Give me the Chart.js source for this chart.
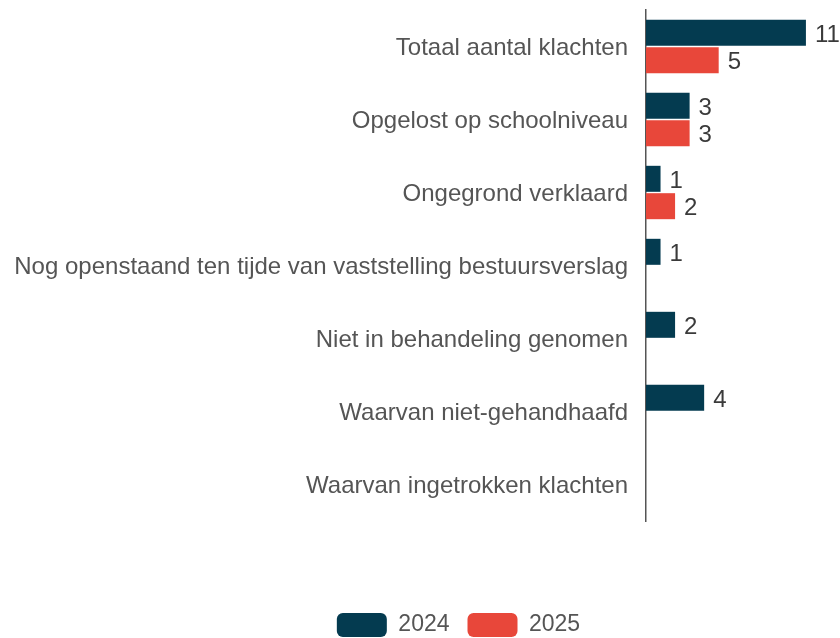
<!DOCTYPE html>
<html>
<head>
<meta charset="utf-8">
<script src="https://cdn.jsdelivr.net/npm/chart.js@4.4.1/dist/chart.umd.min.js"></script>
<style>
  html, body { margin: 0; padding: 0; background: #ffffff; }
  #wrap { width: 840px; height: 638px; position: relative; }
</style>
</head>
<body>
<div id="wrap"><canvas id="chart"></canvas></div>
<script>
const categories = [
    "Totaal aantal klachten",
    "Opgelost op schoolniveau",
    "Ongegrond verklaard",
    "Nog openstaand ten tijde van vaststelling bestuursverslag",
    "Niet in behandeling genomen",
    "Waarvan niet-gehandhaafd",
    "Waarvan ingetrokken klachten"
];
const values2024 = [11, 3, 1, 1, 2, 4, null];
const values2025 = [5, 3, 2, null, null, null, null];
const seriesNames = ["2024", "2025"];

const navy = "#043b50";
const red = "#e8473a";
const fontFamily = "'Liberation Sans', Arial, sans-serif";

// labels next to the bar ends
const valueLabels = {
    id: "valueLabels",
    afterDatasetsDraw(chart) {
        const ctx = chart.ctx;
        ctx.save();
        ctx.font = "24px " + fontFamily;
        ctx.fillStyle = "#3a3a3a";
        ctx.textAlign = "left";
        ctx.textBaseline = "middle";
        chart.data.datasets.forEach((ds, i) => {
            const meta = chart.getDatasetMeta(i);
            meta.data.forEach((bar, idx) => {
                const v = ds.data[idx];
                if (v === null || v === 0) return;
                ctx.fillText(String(v), bar.x + 9, bar.y + 2.5);
            });
        });
        ctx.restore();
    }
};

// legend sits a bit right of the canvas centre in the original
const legendShift = {
    id: "legendShift",
    afterLayout(chart) {
        if (chart.legend) chart.legend.left += 82;
    }
};

new Chart(document.getElementById("chart"), {
    type: "bar",
    data: {
        labels: categories,
        datasets: [
            { label: seriesNames[0], data: values2024, backgroundColor: navy },
            { label: seriesNames[1], data: values2025, backgroundColor: red }
        ]
    },
    options: {
        indexAxis: "y",
        responsive: true,
        maintainAspectRatio: false,
        animation: false,
        categoryPercentage: 0.75,
        barPercentage: 0.95,
        layout: { padding: { top: 10, right: 5, bottom: -9, left: 0 } },
        scales: {
            x: {
                min: 0,
                max: 13,
                ticks: { display: false },
                grid: { display: false, drawTicks: false },
                border: { display: false },
                afterFit(scale) {
                    scale.height = 74;
                    scale.paddingLeft = 0;
                    scale.paddingRight = 0;
                }
            },
            y: {
                ticks: {
                    color: "#555555",
                    padding: 18,
                    labelOffset: 2,
                    font: { family: fontFamily, size: 24 }
                },
                grid: { display: false, drawTicks: false },
                border: { display: true, color: "#555555", width: 1.5 },
                afterFit(scale) {
                    scale.width = 646;
                    scale.paddingTop = 0;
                    scale.paddingBottom = 0;
                }
            }
        },
        plugins: {
            tooltip: { enabled: false },
            legend: {
                position: "bottom",
                labels: {
                    boxWidth: 50,
                    boxHeight: 24,
                    padding: 18,
                    color: "#555555",
                    useBorderRadius: true,
                    borderRadius: 6,
                    font: { family: fontFamily, size: 23 }
                }
            }
        }
    },
    plugins: [valueLabels, legendShift]
});
</script>
</body>
</html>
